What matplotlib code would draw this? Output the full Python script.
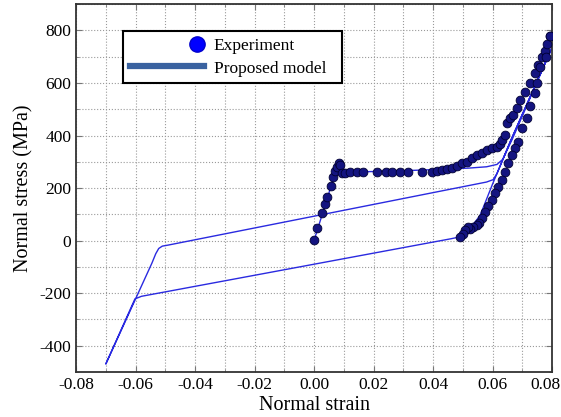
import numpy as np
import matplotlib
matplotlib.use("Agg")
import matplotlib.pyplot as plt
from matplotlib.lines import Line2D
from matplotlib.legend_handler import HandlerLine2DCompound
from matplotlib.ticker import MultipleLocator
from matplotlib.transforms import ScaledTranslation

plt.rcParams['font.family'] = ['Liberation Serif', 'DejaVu Serif']
plt.rcParams['axes.unicode_minus'] = False

# experiment: loading branch (strain, stress)
exp_load_x = [0.0, 0.0010, 0.0027, 0.0037, 0.0044, 0.0057, 0.0064, 0.0071, 0.0077, 0.0084,
              0.0087, 0.0094, 0.0104, 0.0121, 0.0145, 0.0165, 0.0212, 0.0242, 0.0262, 0.0289,
              0.0316, 0.0363, 0.0397, 0.0413, 0.0430, 0.0447, 0.0464, 0.0481, 0.0497, 0.0514,
              0.0531, 0.0548, 0.0565, 0.0581, 0.0598, 0.0615, 0.0625, 0.0632, 0.0642, 0.0649,
              0.0659, 0.0669, 0.0682, 0.0692, 0.0709, 0.0727, 0.0743, 0.0753, 0.0766, 0.0776,
              0.0783, 0.0793]
exp_load_y = [2, 48, 105, 139, 166, 208, 242, 265, 280, 295,
              288, 257, 257, 261, 261, 261, 261, 261, 261, 261,
              261, 262, 263, 265, 268, 272, 276, 284, 295, 299,
              314, 326, 333, 345, 352, 356, 367, 383, 402, 447,
              466, 478, 504, 535, 565, 600, 638, 668, 698, 721,
              748, 778]

# experiment: unloading branch
exp_unload_x = [0.0793, 0.0780, 0.0760, 0.0750, 0.0743, 0.0726, 0.0716, 0.0699, 0.0686, 0.0676,
                0.0666, 0.0652, 0.0642, 0.0632, 0.0618, 0.0608, 0.0598, 0.0585, 0.0575, 0.0565,
                0.0555, 0.0548, 0.0534, 0.0524, 0.0518, 0.0508, 0.0501, 0.0491]
exp_unload_y = [778, 698, 660, 599, 561, 512, 466, 428, 375, 352,
                326, 295, 261, 230, 204, 181, 154, 132, 109, 86,
                67, 59, 52, 44, 52, 40, 25, 14]

# proposed model path
model_x = [0.0, 0.0065, 0.0080, 0.0100, 0.020, 0.030, 0.042, 0.052, 0.058, 0.0615,
           0.0635, 0.0649, 0.0666, 0.080,
           0.0662, 0.060, 0.0558, 0.052, 0.049, 0.046, -0.058, -0.0602, -0.070,
           -0.0545, -0.0532, -0.0522, -0.0510, -0.049, 0.058, 0.0602, 0.0615, 0.0662, 0.080]
model_y = [0, 235, 255, 260, 263, 266, 271, 276, 281, 290,
           310, 345, 385, 735,
           383, 215, 95, 40, 14, 7, -212, -222, -470,
           -86, -50, -30, -21, -17, 223, 232, 255, 383, 735]

xticks = [-0.08, -0.06, -0.04, -0.02, 0.0, 0.02, 0.04, 0.06, 0.08]


class RightMarker(HandlerLine2DCompound):
    def get_xdata(self, legend, xdescent, ydescent, width, height, fontsize):
        xdata, _ = super().get_xdata(legend, xdescent, ydescent, width, height, fontsize)
        return xdata, np.array([width - xdescent - 5.0])


fig = plt.figure(figsize=(5.61, 4.17), dpi=100)
ax = fig.add_axes([0.1355, 0.108, 0.8485, 0.882])

ax.plot(model_x, model_y, color='#2a2ae0', lw=1.0, zorder=2)
ax.plot(exp_load_x, exp_load_y, 'o', ms=6.3, mfc='#141480', mec='#000033', mew=0.6, zorder=3)
ax.plot(exp_unload_x, exp_unload_y, 'o', ms=6.3, mfc='#141480', mec='#000033', mew=0.6, zorder=3)

ax.set_xlim(-0.08, 0.08)
ax.set_ylim(-500, 900)
ax.xaxis.set_minor_locator(MultipleLocator(0.01))
ax.yaxis.set_major_locator(MultipleLocator(200))
ax.yaxis.set_minor_locator(MultipleLocator(100))
ax.set_xticks(xticks)
ax.set_xticklabels(['%.2f' % v for v in xticks])
ax.grid(True, which='both', ls=':', color='#9a9a9a', lw=0.8)
ax.tick_params(which='both', direction='in', top=True, right=True, labelsize=12.5, color='#777777')
ax.tick_params(which='major', length=4)
ax.tick_params(which='minor', length=2)
for s in ax.spines.values():
    s.set_linewidth(1.3)
    s.set_color('#333333')

# last x label sits pushed in from the figure edge
last = ax.get_xticklabels()[-1]
last.set_ha('right')
last.set_transform(last.get_transform() + ScaledTranslation(8 / 100, 0, fig.dpi_scale_trans))

ax.set_xlabel('Normal strain', fontsize=14.5, labelpad=2)
ax.set_ylabel('Normal stress (MPa)', fontsize=14.5, labelpad=4)

h_exp = Line2D([], [], ls='none', marker='o', ms=11, mfc='#0000ff', mec='#0000cc')
h_mod = Line2D([], [], color='#3a62a0', lw=4.5)
leg = ax.legend([h_exp, h_mod], ['Experiment', 'Proposed model  '], loc='upper left',
                bbox_to_anchor=(0.0987, 0.927), borderaxespad=0, fontsize=12.5,
                handlelength=4.3, handletextpad=0.55, labelspacing=0.38, borderpad=0.38,
                fancybox=False, framealpha=1, numpoints=1,
                handler_map={h_exp: RightMarker()})
leg.get_frame().set_edgecolor('black')
leg.get_frame().set_linewidth(1.5)

fig.savefig('out.png', dpi=100)
